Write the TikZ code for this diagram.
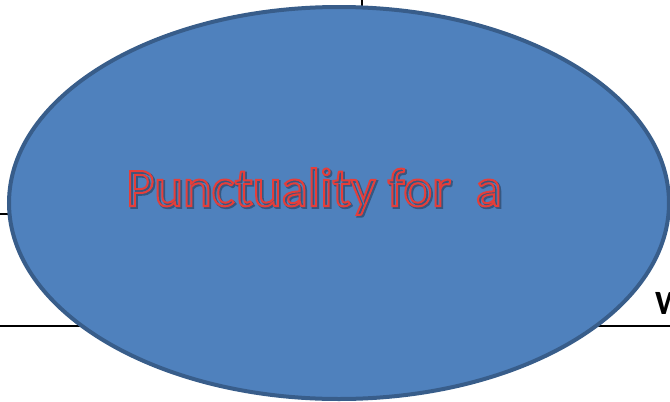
\documentclass[tikz,border=0pt]{standalone}
\usepackage{fontspec}
\setmainfont{Carlito}
\usetikzlibrary{shapes.geometric}
\definecolor{ofblue}{HTML}{4F81BD}
\definecolor{ofborder}{HTML}{385D8A}
\definecolor{ofred}{HTML}{E53E3A}
\definecolor{ofshadow}{HTML}{2E4A6E}
\newcommand\myoutline[2]{\special{pdf:literal direct 1 Tr #1 w}#2\special{pdf:literal direct 0 Tr}}
\tikzset{
  rule/.style={draw=black, line width=2pt},
  bubble/.style={ellipse, draw=ofborder, fill=ofblue, line width=4pt,
    minimum width=660pt, minimum height=392pt, inner sep=0pt},
  outlinetext/.style={anchor=base west, inner sep=0pt, font=\fontsize{54.5}{60}\selectfont},
  sidetext/.style={anchor=base west, inner sep=0pt, font=\fontsize{34}{40}\selectfont\bfseries}
}
\begin{document}
\begin{tikzpicture}[x=1pt,y=-1pt]
\useasboundingbox (0,0) rectangle (670,402);
\coordinate (vt) at (362,0);
\coordinate (vb) at (362,12);
\coordinate (ll) at (0,214);
\coordinate (lr) at (12,214);
\coordinate (bl) at (0,326);
\coordinate (br) at (670,326);
\draw[rule] (vt) -- (vb);
\draw[rule] (ll) -- (lr);
\draw[rule] (bl) -- (br);
\node[bubble] (oval) at (339,203) {};
\node[outlinetext, text=ofshadow, opacity=0.75] (shadow) at (127.5,207.5) {\myoutline{2.6}{Punctuality for\ \ a}};
\node[outlinetext, text=ofred] (title) at (126,206) {\myoutline{2.0}{Punctuality for\ \ a}};
\node[sidetext] (w) at (655,314) {W};
\end{tikzpicture}
\end{document}
